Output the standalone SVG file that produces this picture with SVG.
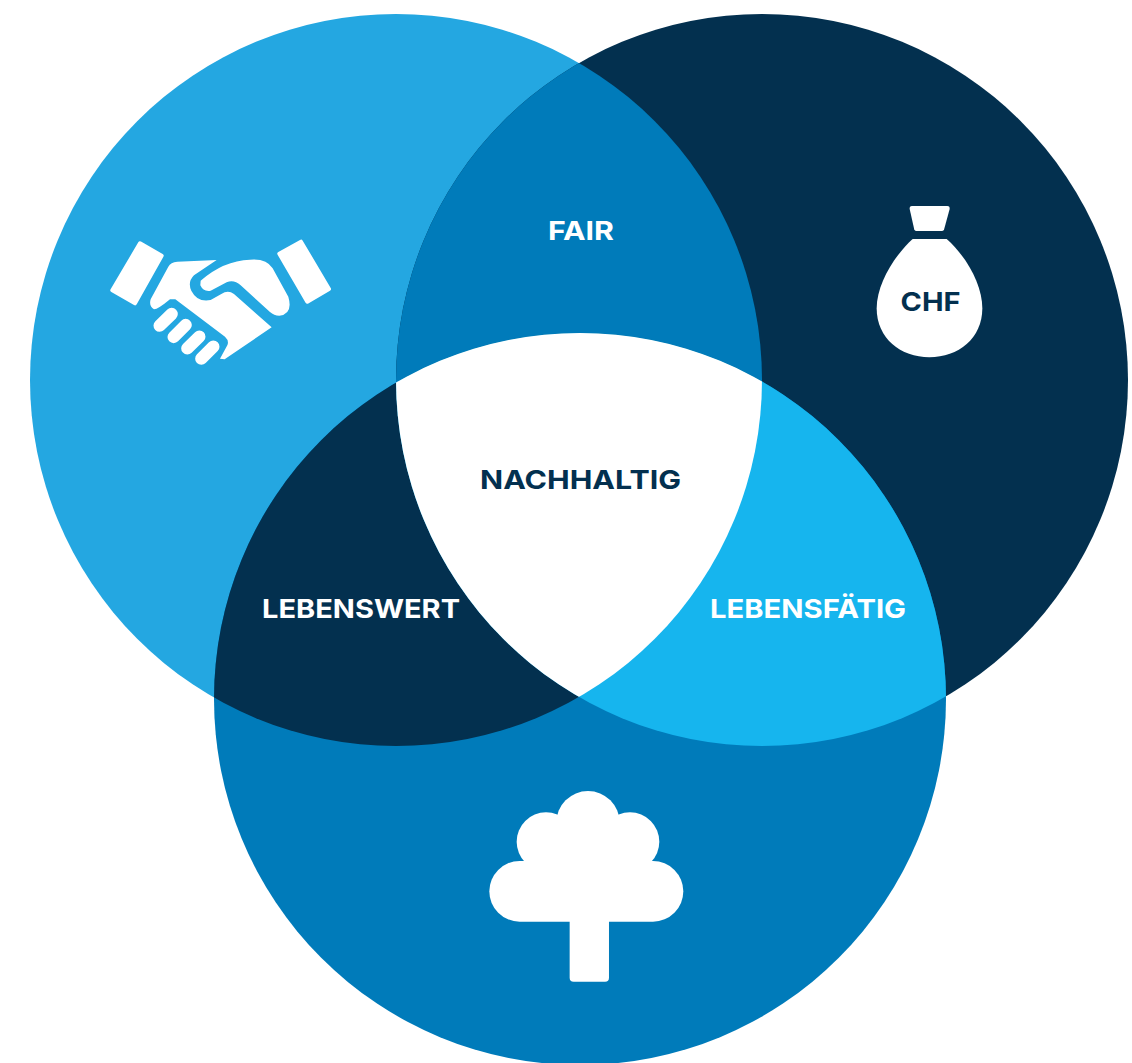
<svg xmlns="http://www.w3.org/2000/svg" width="1132" height="1063" viewBox="0 0 1132 1063">
<style>
.lbl{font-family:"Inter","Liberation Sans",sans-serif;font-weight:700;font-size:26px;text-anchor:middle}
.w{fill:#fff}.d{fill:#03304f}
.ic{fill:#fff}
</style>
<defs>
<clipPath id="clip-a"><circle cx="396" cy="380" r="366"/></clipPath>
<clipPath id="clip-b"><circle cx="762" cy="380" r="366"/></clipPath>
<clipPath id="clip-c"><circle cx="580" cy="699" r="366"/></clipPath>
</defs>
<rect width="1132" height="1063" fill="#fff"/>
<g id="circle-social"><circle cx="396" cy="380" r="366" fill="#24a7e1"/></g>
<g id="circle-economic"><circle cx="762" cy="380" r="366" fill="#03304f"/></g>
<g id="circle-ecological"><circle cx="580" cy="699" r="366" fill="#007bba"/></g>
<g id="fair">
<g clip-path="url(#clip-a)"><circle cx="762" cy="380" r="366" fill="#007bba"/></g>
<text class="lbl w" x="581" y="239.500" textLength="66" lengthAdjust="spacingAndGlyphs">FAIR</text>
</g>
<g id="lebenswert">
<g clip-path="url(#clip-a)"><circle cx="580" cy="699" r="366" fill="#03304f"/></g>
</g>
<g id="lebensfaetig">
<g clip-path="url(#clip-b)"><circle cx="580" cy="699" r="366" fill="#16b5ee"/></g>
</g>
<g id="nachhaltig">
<g clip-path="url(#clip-a)"><g clip-path="url(#clip-b)"><circle cx="580" cy="699" r="366" fill="#fff"/></g></g>
<text class="lbl d" x="580.500" y="488.500" textLength="201" lengthAdjust="spacingAndGlyphs">NACHHALTIG</text>
</g>
<text id="label-lebenswert" class="lbl w" x="361" y="617.500" textLength="198" lengthAdjust="spacingAndGlyphs">LEBENSWERT</text>
<text id="label-lebensfaetig" class="lbl w" x="808" y="617.500" textLength="196" lengthAdjust="spacingAndGlyphs">LEBENSFÄTIG</text>
<g id="icon-handshake" transform="translate(90 220) scale(.3333)" class="ic">
<path stroke="#fff" stroke-width="12" stroke-linejoin="round" d="M150 70L215 107L135 250L67 211Z"/>
<path stroke="#fff" stroke-width="12" stroke-linejoin="round" d="M633 65L717 207L652 245L568 101Z"/>
<path d="M380 120L262 125Q242 127 235 140L182 238Q176 258 192 268Q204 268 240 238L256 238L405 350Q418 362 412 376L390 416L404 418L545 322L432 222Q414 208 394 222L362 240Q322 248 304 212Q292 186 312 166Z"/>
<path d="M332 182Q400 122 480 119Q530 115 548 145L595 230Q610 282 568 287Q552 287 540 276L452 196Q432 178 410 187L362 212Q340 216 331 196Z"/>
<path stroke="#fff" stroke-width="37" stroke-linecap="round" d="M209 317L245 282M251 351L287 315M292 385L328 350M334 416L370 380"/>
</g>
<g id="icon-bag" class="ic" transform="translate(860 195) scale(.3333)">
<path d="M156 33H262Q270 33 269 42L252 104Q250 108 245 108H170Q165 108 163 104L149 42Q148 33 156 33Z"/>
<path d="M158 132H260C320 185 367 270 367 340C367 430 295 487 208 487C122 487 50 430 50 340C50 270 100 185 158 132Z"/>
</g>
<text id="chf" class="lbl d" x="930.500" y="310.500" textLength="60" lengthAdjust="spacingAndGlyphs">CHF</text>
<g id="icon-tree" class="ic" transform="translate(470 780) scale(.3333)">
<circle cx="354" cy="128" r="95"/><circle cx="228" cy="185" r="88"/><circle cx="480" cy="185" r="88"/>
<rect x="58" y="243" width="582" height="182" rx="91"/>
<rect x="228" y="150" width="252" height="120"/>
<rect x="299" y="400" width="118" height="205" rx="12"/>
</g>
<g id="connectors"/>
</svg>
